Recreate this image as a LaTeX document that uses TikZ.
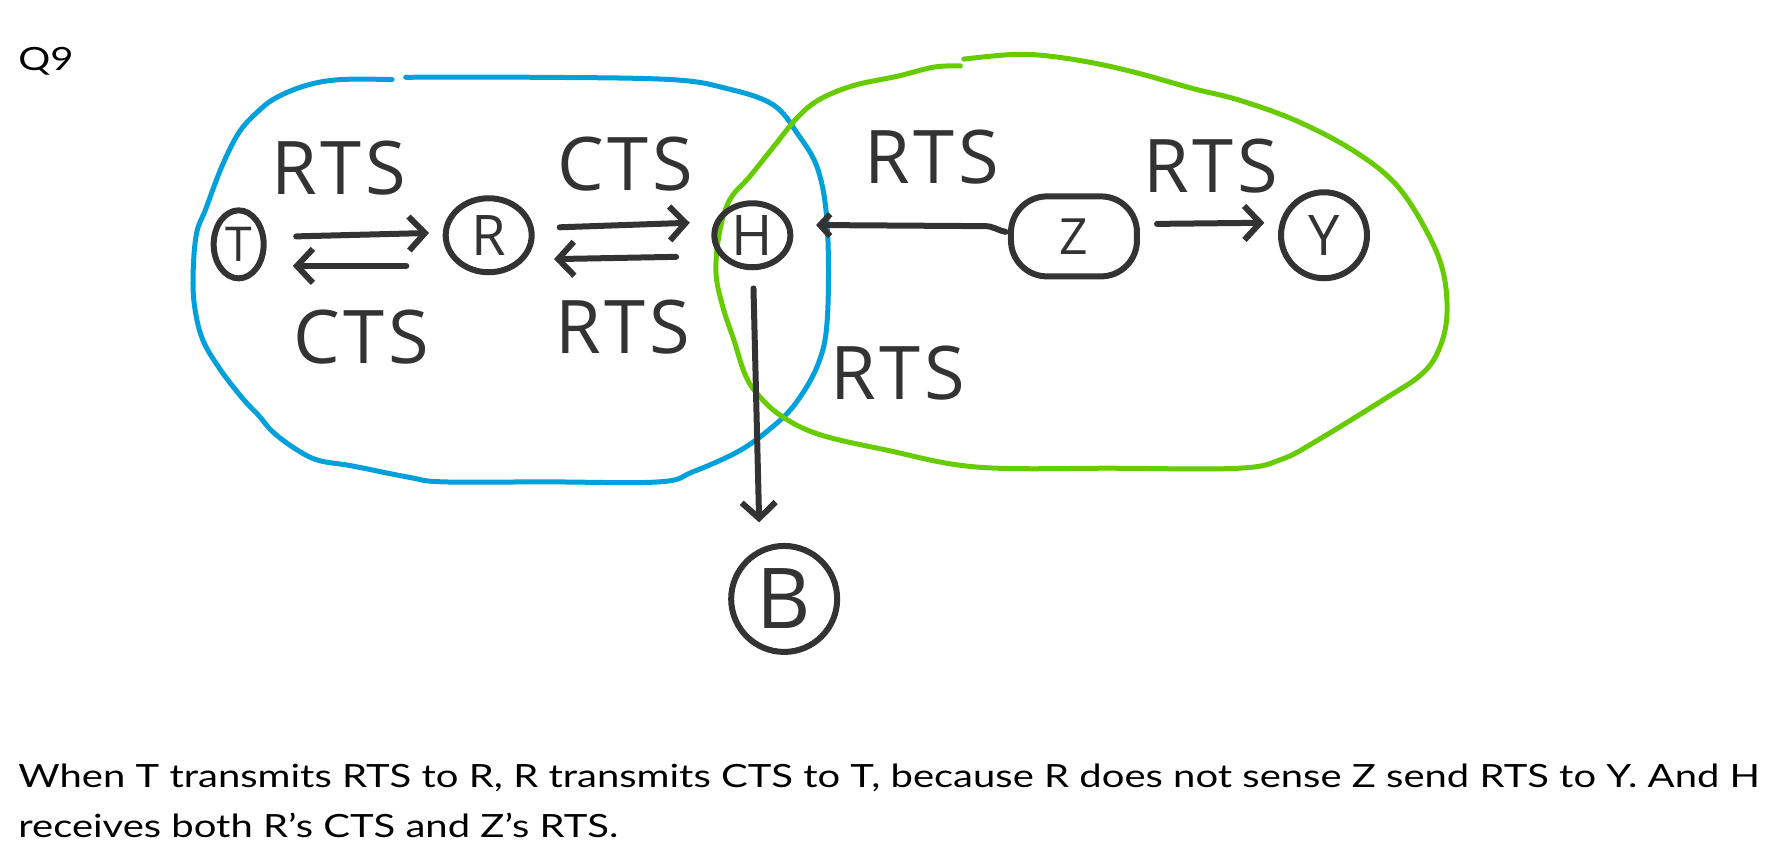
\documentclass[tikz,border=0pt]{standalone}
\usepackage{fontspec}
\setmainfont{Lato}
\newfontfamily\bodyfont{Lato}[FakeStretch=1.25]
\newfontfamily\hand{Open Sans}[LetterSpace=5]
\usetikzlibrary{calc,arrows.meta,shapes.geometric}
\definecolor{ink}{HTML}{333333}
\definecolor{bluel}{HTML}{00A0DA}
\definecolor{greenl}{HTML}{66CC00}
\tikzset{
  stn/.style={draw=ink, line width=6pt, ellipse, inner sep=0pt, text=ink, font=\hand\fontsize{56}{56}\selectfont},
  lbl/.style={text=ink, inner sep=0pt, font=\hand\fontsize{74}{74}\selectfont},
  wire/.style={draw=ink, line width=6pt, line cap=round, line join=round},
  head/.style={-{Straight Barb[length=16pt,width=34pt,line width=6pt]}},
  smallhead/.style={-{Straight Barb[length=10pt,width=22pt,line width=6pt]}},
  loopb/.style={draw=bluel, line width=5pt, line cap=round},
  loopg/.style={draw=greenl, line width=5pt, line cap=round},
  body/.style={inner sep=0pt, anchor=base west, font=\bodyfont\fontsize{32}{32}\selectfont}
}
\begin{document}
\begin{tikzpicture}[x=1.1365pt,y=-1.1365pt]
\useasboundingbox (0,0) rectangle (1568,762);
% loops
\draw[loopb] plot[smooth, tension=0.6] coordinates {(357,68) (470,68) (590,70) (640,78) (680,92) (702,118) (720,150) (728,200) (728,280) (720,320) (700,355) (678,377) (650,397) (610,415) (580,424) (480,424) (390,424) (360,420) (310,410) (280,405) (260,395) (240,380) (228,366) (213,350) (193,324) (178,298) (171,268) (170,238) (173,205) (181,184) (195,147) (210,117) (226,99) (243,86) (270,75) (300,70) (345,70)};
\draw[loopg] plot[smooth, tension=0.6] coordinates {(848,52) (890,48) (920,49) (960,55) (1000,64) (1050,78) (1090,88) (1140,106) (1190,132) (1228,162) (1255,203) (1270,240) (1273,280) (1265,310) (1250,330) (1220,350) (1160,387) (1128,404) (1090,412) (980,412) (860,411) (780,396) (720,382) (686,365) (665,345) (655,328) (646,300) (636,270) (630,240) (633,205) (642,176) (660,155) (680,130) (702,103) (722,87) (752,75) (790,67) (822,59) (845,58)};
% stations
\node[stn, minimum width=50pt, minimum height=68pt, font=\hand\fontsize{48}{48}\selectfont] (T) at (210,215) {T};
\node[stn, minimum width=86pt, minimum height=74pt] (R) at (430,207) {R};
\node[stn, minimum width=76pt, minimum height=64pt] (H) at (662,207) {H};
\node[stn, shape=rectangle, rounded corners=36pt, minimum width=126pt, minimum height=80pt, font=\hand\fontsize{50}{50}\selectfont] (Z) at (945,208) {Z};
\node[stn, minimum width=86pt, minimum height=86pt] (Y) at (1165,207) {Y};
\node[stn, circle, minimum size=106pt, font=\hand\fontsize{84}{84}\selectfont] (B) at (690,527) {B};
% connectors
\draw[wire, head] ($(T.east)+(26,-7)$) -- ($(R.west)+(-12,-2)$);
\draw[wire, head] ($(R.west)+(-32,27)$) -- ($(T.east)+(23,19)$);
\draw[wire, head] ($(R.east)+(22,-7)$) -- ($(H.west)+(-19,-11)$);
\draw[wire, head] ($(H.west)+(-31,19)$) -- ($(R.east)+(17,21)$);
\draw[wire, smallhead] ($(Z.west)+(-2,-4)$) to[out=170,in=0] ($(Z.west)+(-20,-9)$) -- ($(H.east)+(20,-9)$);
\draw[wire, head] ($(Z.east)+(15,-11)$) -- ($(Y.west)+(-12,-11)$);
\draw[wire, head] ($(H.south)+(1,16)$) -- ($(B.north)+(-22,-18)$);
% labels
\node[lbl] (l1) at (298,148) {RTS};
\node[lbl] (l2) at (318,297) {CTS};
\node[lbl] (l3) at (550,144) {CTS};
\node[lbl] (l4) at (548,288) {RTS};
\node[lbl] (l5) at (820,138) {RTS};
\node[lbl] (l6) at (1065,146) {RTS};
\node[lbl] (l7) at (790,328) {RTS};
% text
\node[body] (q) at (16,62) {Q9};
\node[body] (t1) at (16,693) {When T transmits RTS to R, R transmits CTS to T, because R does not sense Z send RTS to Y. And H};
\node[body] (t2) at (16,737) {receives both R’s CTS and Z’s RTS.};
\end{tikzpicture}
\end{document}
